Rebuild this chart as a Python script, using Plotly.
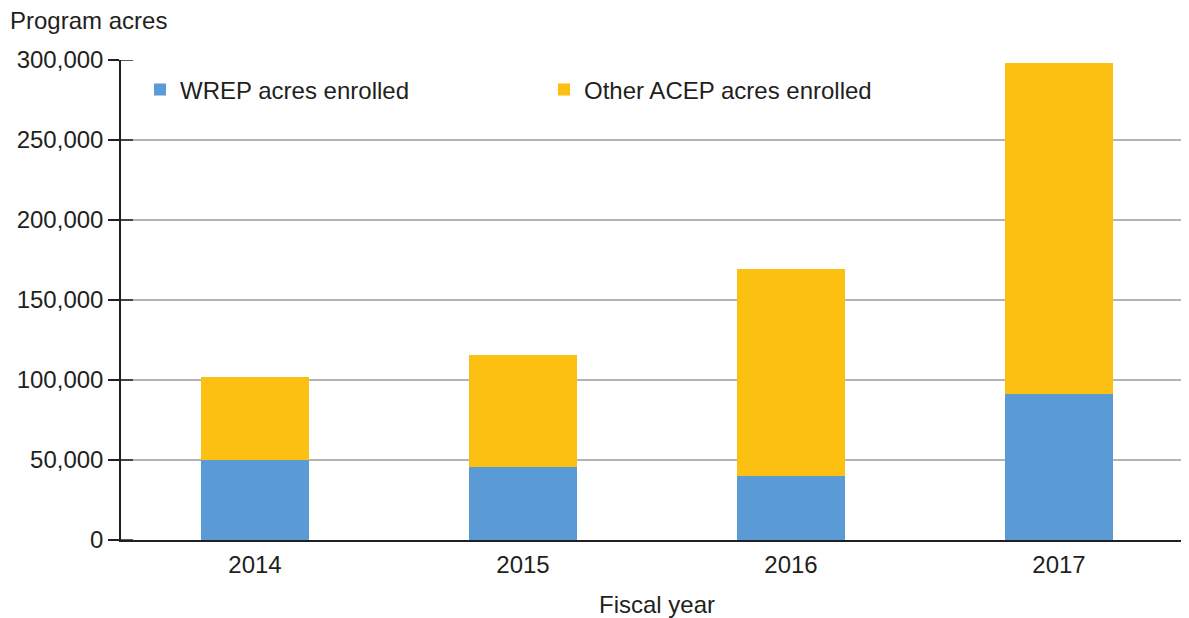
import plotly.graph_objects as go

years = ["2014", "2015", "2016", "2017"]
wrep = [50300, 45800, 39700, 91000]
other_total = [101900, 115600, 169600, 297900]
other = [t - w for t, w in zip(other_total, wrep)]
y_ticks = [0, 50000, 100000, 150000, 200000, 250000, 300000]

FONT = "Liberation Sans, Arial, Helvetica, sans-serif"
TXT = "#231F20"

# page has an 8px body margin; figure placed so plot area = x 121..1193, y 60..540
L, T, PW, PH, H = 113, 52, 1072, 480, 610

fig = go.Figure()
fig.add_trace(go.Bar(x=years, y=wrep, name="WREP acres enrolled",
                     marker=dict(color="#5B9BD5", line=dict(width=0))))
fig.add_trace(go.Bar(x=years, y=other, name="Other ACEP acres enrolled",
                     marker=dict(color="#FBC012", line=dict(width=0))))

fig.update_layout(
    barmode="stack",
    bargap=0.6,
    width=L + PW, height=H,
    margin=dict(l=L, r=0, t=T, b=H - T - PH, autoexpand=False),
    paper_bgcolor="white", plot_bgcolor="white",
    font=dict(family=FONT, size=24, color=TXT),
    showlegend=True,
    legend=dict(orientation="h", traceorder="normal",
                x=19 / PW, y=1 - 30 / PH, xanchor="left", yanchor="middle",
                entrywidth=359, entrywidthmode="pixels",
                font=dict(size=24), bgcolor="rgba(0,0,0,0)"),
    xaxis=dict(showline=True, linecolor=TXT, linewidth=2,
               ticks="", tickfont=dict(size=24), ticklabelstandoff=2,
               title=dict(text="Fiscal year", font=dict(size=24), standoff=26)),
    yaxis=dict(range=[0, 300000], tickvals=y_ticks, tickformat=",",
               showgrid=True, gridcolor="#B3B3B3", gridwidth=1.5,
               showline=True, linecolor=TXT, linewidth=1.5,
               ticks="outside", ticklen=11, tickwidth=1.5, tickcolor=TXT,
               tickfont=dict(size=24), zeroline=False),
)
# inner half of the crossing tick marks
for v in y_ticks:
    fig.add_shape(type="line", xref="x domain", yref="y",
                  x0=0, x1=12 / PW, y0=v, y1=v,
                  line=dict(color=TXT, width=1.5), layer="above")

fig.add_annotation(text="Program acres", xref="paper", yref="paper",
                   x=(0 - L) / PW, y=1 + (T - 12) / PH,
                   xanchor="left", yanchor="middle",
                   showarrow=False, font=dict(size=24))

fig.write_html("out.html")
